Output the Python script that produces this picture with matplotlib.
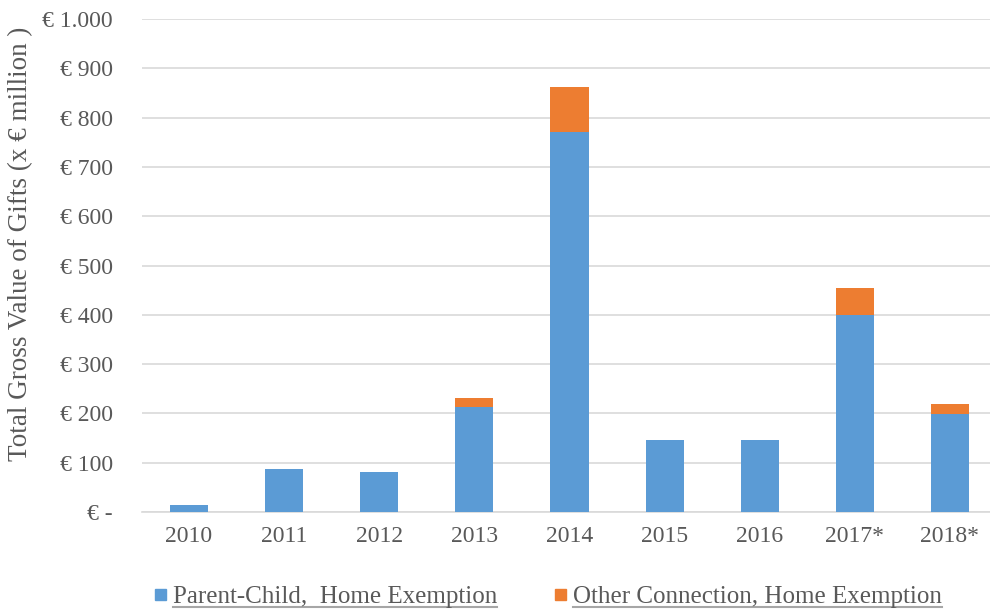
import matplotlib.pyplot as plt
from matplotlib.patches import Rectangle
import numpy as np

years = ["2010", "2011", "2012", "2013", "2014", "2015", "2016", "2017*", "2018*"]
parent_child = [14, 87, 81, 213, 771, 146, 146, 400, 199]
other_conn = [0, 0, 0, 18, 91, 0, 0, 54, 20]
yticks = [0, 100, 200, 300, 400, 500, 600, 700, 800, 900, 1000]
ytick_labels = ["€ -", "€ 100", "€ 200", "€ 300", "€ 400", "€ 500",
                "€ 600", "€ 700", "€ 800", "€ 900", "€ 1.000"]
labels = ["Parent-Child,  Home Exemption", "Other Connection, Home Exemption"]

plt.rcParams['font.family'] = ['Liberation Serif', 'DejaVu Serif']
grey = "#595959"
blue = "#5B9BD5"
orange = "#ED7D31"
colors = [blue, orange]

W, H = 990, 612
fig = plt.figure(figsize=(9.9, 6.12), dpi=100)
ax = fig.add_axes([141.5 / W, 1 - 512 / H, 856 / W, 493 / H])

x = np.arange(len(years))
ax.bar(x, parent_child, width=0.4, color=blue, zorder=3)
ax.bar(x, other_conn, width=0.4, bottom=parent_child, color=orange, zorder=3)

ax.set_xlim(-0.5, len(years) - 0.5)
ax.set_ylim(0, 1000)
ax.set_yticks(yticks)
ax.set_yticklabels(ytick_labels)
ax.set_xticks(x)
ax.set_xticklabels(years)
ax.tick_params(axis='both', length=0, labelsize=17, colors=grey)
ax.tick_params(axis='y', pad=20.5)
ax.tick_params(axis='x', pad=10)
ax.yaxis.grid(True, color="#D9D9D9", linewidth=1.2, zorder=0)
for s in ["top", "right", "left"]:
    ax.spines[s].set_visible(False)
ax.spines["bottom"].set_color("#D9D9D9")
ax.spines["bottom"].set_linewidth(1.2)
ax.set_ylabel("Total Gross Value of Gifts (x € million )", fontsize=19.5, color=grey, labelpad=6.5)
ax.yaxis.label.set_y(0.544)

# legend at the bottom, texts underlined
fig.canvas.draw()
r = fig.canvas.get_renderer()
marker_x = [155, 555]
text_x = [173, 573]
for i in range(2):
    fig.add_artist(Rectangle((marker_x[i] / W, 1 - 600 / H), 11 / W, 11 / H,
                             transform=fig.transFigure, color=colors[i]))
    t = fig.text(text_x[i] / W, 1 - 603 / H, labels[i], fontsize=18, color=grey,
                 ha="left", va="baseline")
    bb = t.get_window_extent(r).transformed(fig.transFigure.inverted())
    fig.add_artist(plt.Line2D([bb.x0, bb.x1], [1 - 607 / H, 1 - 607 / H],
                              transform=fig.transFigure, color="#A6A6A6", linewidth=1.5))

plt.savefig("out.png", dpi=100)
